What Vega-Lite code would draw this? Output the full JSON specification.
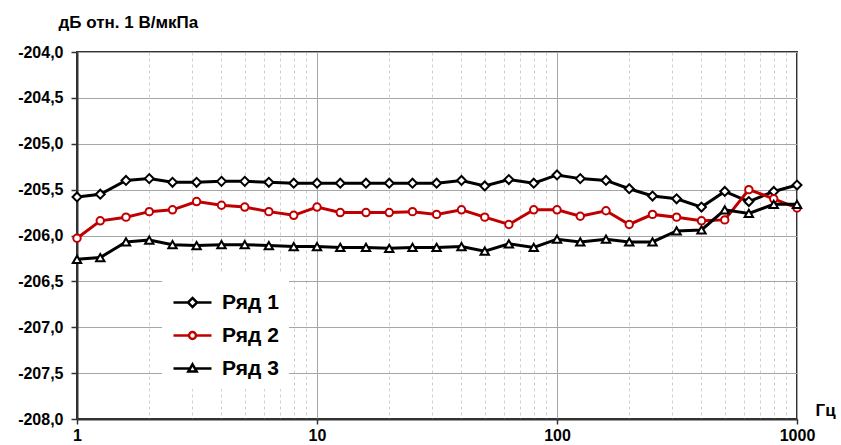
{
  "$schema": "https://vega.github.io/schema/vega-lite/v6.json",
  "width": 720,
  "height": 367,
  "autosize": "none",
  "padding": {"left": 77, "top": 52, "right": 44, "bottom": 26},
  "config": {"view": {"stroke": "#333333", "strokeWidth": 2}, "font": "Liberation Sans"},
  "data": {"values": [
    {"series":"Ряд 1","f":1,"v":-205.58},{"series":"Ряд 1","f":1.25,"v":-205.55},{"series":"Ряд 1","f":1.6,"v":-205.40},{"series":"Ряд 1","f":2,"v":-205.38},{"series":"Ряд 1","f":2.5,"v":-205.42},{"series":"Ряд 1","f":3.15,"v":-205.42},{"series":"Ряд 1","f":4,"v":-205.41},{"series":"Ряд 1","f":5,"v":-205.41},{"series":"Ряд 1","f":6.3,"v":-205.42},{"series":"Ряд 1","f":8,"v":-205.43},{"series":"Ряд 1","f":10,"v":-205.43},{"series":"Ряд 1","f":12.5,"v":-205.43},{"series":"Ряд 1","f":16,"v":-205.43},{"series":"Ряд 1","f":20,"v":-205.43},{"series":"Ряд 1","f":25,"v":-205.43},{"series":"Ряд 1","f":31.5,"v":-205.43},{"series":"Ряд 1","f":40,"v":-205.40},{"series":"Ряд 1","f":50,"v":-205.46},{"series":"Ряд 1","f":63,"v":-205.39},{"series":"Ряд 1","f":80,"v":-205.43},{"series":"Ряд 1","f":100,"v":-205.34},{"series":"Ряд 1","f":125,"v":-205.38},{"series":"Ряд 1","f":160,"v":-205.40},{"series":"Ряд 1","f":200,"v":-205.49},{"series":"Ряд 1","f":250,"v":-205.57},{"series":"Ряд 1","f":315,"v":-205.60},{"series":"Ряд 1","f":400,"v":-205.69},{"series":"Ряд 1","f":500,"v":-205.52},{"series":"Ряд 1","f":630,"v":-205.63},{"series":"Ряд 1","f":800,"v":-205.52},{"series":"Ряд 1","f":1000,"v":-205.45},
    {"series":"Ряд 2","f":1,"v":-206.03},{"series":"Ряд 2","f":1.25,"v":-205.84},{"series":"Ряд 2","f":1.6,"v":-205.80},{"series":"Ряд 2","f":2,"v":-205.74},{"series":"Ряд 2","f":2.5,"v":-205.72},{"series":"Ряд 2","f":3.15,"v":-205.63},{"series":"Ряд 2","f":4,"v":-205.67},{"series":"Ряд 2","f":5,"v":-205.69},{"series":"Ряд 2","f":6.3,"v":-205.74},{"series":"Ряд 2","f":8,"v":-205.78},{"series":"Ряд 2","f":10,"v":-205.69},{"series":"Ряд 2","f":12.5,"v":-205.75},{"series":"Ряд 2","f":16,"v":-205.75},{"series":"Ряд 2","f":20,"v":-205.75},{"series":"Ряд 2","f":25,"v":-205.74},{"series":"Ряд 2","f":31.5,"v":-205.77},{"series":"Ряд 2","f":40,"v":-205.72},{"series":"Ряд 2","f":50,"v":-205.80},{"series":"Ряд 2","f":63,"v":-205.88},{"series":"Ряд 2","f":80,"v":-205.72},{"series":"Ряд 2","f":100,"v":-205.72},{"series":"Ряд 2","f":125,"v":-205.79},{"series":"Ряд 2","f":160,"v":-205.73},{"series":"Ряд 2","f":200,"v":-205.88},{"series":"Ряд 2","f":250,"v":-205.77},{"series":"Ряд 2","f":315,"v":-205.80},{"series":"Ряд 2","f":400,"v":-205.84},{"series":"Ряд 2","f":500,"v":-205.83},{"series":"Ряд 2","f":630,"v":-205.50},{"series":"Ряд 2","f":800,"v":-205.60},{"series":"Ряд 2","f":1000,"v":-205.70},
    {"series":"Ряд 3","f":1,"v":-206.26},{"series":"Ряд 3","f":1.25,"v":-206.24},{"series":"Ряд 3","f":1.6,"v":-206.07},{"series":"Ряд 3","f":2,"v":-206.05},{"series":"Ряд 3","f":2.5,"v":-206.10},{"series":"Ряд 3","f":3.15,"v":-206.11},{"series":"Ряд 3","f":4,"v":-206.10},{"series":"Ряд 3","f":5,"v":-206.10},{"series":"Ряд 3","f":6.3,"v":-206.11},{"series":"Ряд 3","f":8,"v":-206.12},{"series":"Ряд 3","f":10,"v":-206.12},{"series":"Ряд 3","f":12.5,"v":-206.13},{"series":"Ряд 3","f":16,"v":-206.13},{"series":"Ряд 3","f":20,"v":-206.14},{"series":"Ряд 3","f":25,"v":-206.13},{"series":"Ряд 3","f":31.5,"v":-206.13},{"series":"Ряд 3","f":40,"v":-206.12},{"series":"Ряд 3","f":50,"v":-206.17},{"series":"Ряд 3","f":63,"v":-206.09},{"series":"Ряд 3","f":80,"v":-206.13},{"series":"Ряд 3","f":100,"v":-206.04},{"series":"Ряд 3","f":125,"v":-206.07},{"series":"Ряд 3","f":160,"v":-206.04},{"series":"Ряд 3","f":200,"v":-206.07},{"series":"Ряд 3","f":250,"v":-206.07},{"series":"Ряд 3","f":315,"v":-205.95},{"series":"Ряд 3","f":400,"v":-205.94},{"series":"Ряд 3","f":500,"v":-205.72},{"series":"Ряд 3","f":630,"v":-205.76},{"series":"Ряд 3","f":800,"v":-205.66},{"series":"Ряд 3","f":1000,"v":-205.66}
  ]},
  "layer": [
    {
      "mark": {"type": "line", "strokeWidth": 3},
      "encoding": {
        "x": {
          "field": "f", "type": "quantitative",
          "scale": {"type": "log", "domain": [1, 1000]},
          "axis": {
            "values": [1,2,3,4,5,6,7,8,9,10,20,30,40,50,60,70,80,90,100,200,300,400,500,600,700,800,900,1000],
            "labelExpr": "(datum.value == 1 || datum.value == 10 || datum.value == 100 || datum.value == 1000) ? format(datum.value, 'd') : ''",
            "labelFlush": false, "labelOverlap": false,
            "grid": true,
            "gridColor": {"condition": {"test": "datum.value == 1 || datum.value == 10 || datum.value == 100 || datum.value == 1000", "value": "#a6a6a6"}, "value": "#cfcfcf"},
            "gridDash": {"condition": {"test": "datum.value == 1 || datum.value == 10 || datum.value == 100 || datum.value == 1000", "value": []}, "value": [3, 3]},
            "tickOpacity": {"condition": {"test": "datum.value == 1 || datum.value == 10 || datum.value == 100 || datum.value == 1000", "value": 1}, "value": 0},
            "tickSize": 5, "tickColor": "#333333", "tickWidth": 1.5,
            "domainColor": "#333333", "domainWidth": 2,
            "labelFont": "Liberation Sans", "labelFontWeight": "bold", "labelFontSize": 16, "labelColor": "#000000", "labelPadding": 3,
            "title": "Гц", "titleX": 738, "titleY": -9, "titleAlign": "left", "titleBaseline": "middle",
            "titleFont": "Liberation Sans", "titleFontSize": 17, "titleFontWeight": "bold", "titleColor": "#000000"
          }
        },
        "y": {
          "field": "v", "type": "quantitative",
          "scale": {"domain": [-208, -204]},
          "axis": {
            "values": [-208, -207.5, -207, -206.5, -206, -205.5, -205, -204.5, -204],
            "labelExpr": "replace(replace(format(datum.value, '.1f'), '.', ','), '\u2212', '-')",
            "grid": true, "gridColor": "#a6a6a6",
            "tickSize": 6, "tickColor": "#333333", "tickWidth": 1.5,
            "domainColor": "#333333", "domainWidth": 2,
            "labelFont": "Liberation Sans", "labelFontWeight": "bold", "labelFontSize": 16, "labelColor": "#000000", "labelPadding": 8,
            "title": "дБ отн. 1 В/мкПа", "titleAngle": 0, "titleX": -19, "titleY": -25, "titleAlign": "left", "titleBaseline": "alphabetic",
            "titleFont": "Liberation Sans", "titleFontSize": 17, "titleFontWeight": "bold", "titleColor": "#000000"
          }
        },
        "color": {
          "field": "series", "type": "nominal",
          "scale": {"domain": ["Ряд 1", "Ряд 2", "Ряд 3"], "range": ["#000000", "#c00000", "#000000"]}
        }
      }
    },
    {
      "transform": [{"filter": "datum.series === 'Ряд 1'"}],
      "mark": {"type": "point", "shape": "diamond", "filled": false, "fill": "white", "strokeWidth": 2, "size": 80, "opacity": 1},
      "encoding": {
        "x": {"field": "f", "type": "quantitative"},
        "y": {"field": "v", "type": "quantitative"},
        "color": {"field": "series", "type": "nominal"}
      }
    },
    {
      "transform": [{"filter": "datum.series === 'Ряд 2'"}],
      "mark": {"type": "point", "shape": "circle", "filled": false, "fill": "white", "strokeWidth": 2, "size": 55, "opacity": 1},
      "encoding": {
        "x": {"field": "f", "type": "quantitative"},
        "y": {"field": "v", "type": "quantitative"},
        "color": {"field": "series", "type": "nominal"}
      }
    },
    {
      "transform": [{"filter": "datum.series === 'Ряд 3'"}],
      "mark": {"type": "point", "shape": "triangle-up", "filled": false, "fill": "white", "strokeWidth": 2, "size": 70, "opacity": 1},
      "encoding": {
        "x": {"field": "f", "type": "quantitative"},
        "y": {"field": "v", "type": "quantitative"},
        "color": {"field": "series", "type": "nominal"}
      }
    },
    {
      "transform": [{"filter": "false"}],
      "mark": {"type": "point", "filled": false, "strokeWidth": 2.5, "opacity": 1},
      "encoding": {
        "x": {"field": "f", "type": "quantitative"},
        "y": {"field": "v", "type": "quantitative"},
        "color": {
          "field": "series", "type": "nominal",
          "legend": {
            "orient": "none", "legendX": 85, "legendY": 220, "title": null, "padding": 10, "fillColor": "white",
            "symbolSize": 1444, "symbolStrokeWidth": 2.5, "symbolOpacity": 1,
            "labelFont": "Liberation Sans", "labelFontSize": 21, "labelFontWeight": "bold", "labelColor": "#000000",
            "labelOffset": 9, "rowPadding": 2
          }
        },
        "shape": {
          "field": "series", "type": "nominal",
          "scale": {"domain": ["Ряд 1", "Ряд 2", "Ряд 3"], "range": [
            "M-1,0H-0.24M0.24,0H1M0,-0.24L0.24,0L0,0.24L-0.24,0Z",
            "M-1,0H-0.18M0.18,0H1M0.18,0A0.18,0.18,0,1,1,-0.18,0A0.18,0.18,0,1,1,0.18,0Z",
            "M-1,0H-0.16M0.16,0H1M0,-0.22L0.22,0.16L-0.22,0.16Z"
          ]},
          "legend": {
            "orient": "none", "legendX": 85, "legendY": 220, "title": null, "padding": 10, "fillColor": "white",
            "symbolSize": 1444, "symbolStrokeWidth": 2.5, "symbolOpacity": 1,
            "labelFont": "Liberation Sans", "labelFontSize": 21, "labelFontWeight": "bold", "labelColor": "#000000",
            "labelOffset": 9, "rowPadding": 2
          }
        }
      }
    }
  ]
}
